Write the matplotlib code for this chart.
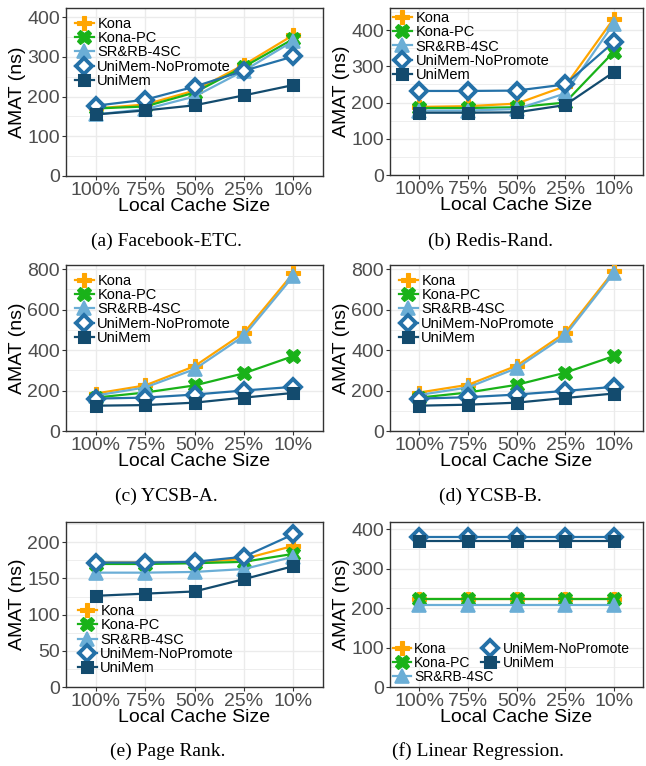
import matplotlib
matplotlib.use('Agg')
import matplotlib.pyplot as plt
from matplotlib.ticker import MultipleLocator

# x categories and series names
cache_sizes = ['100%', '75%', '50%', '25%', '10%']
series = ['Kona', 'Kona-PC', 'SR&RB-4SC', 'UniMem-NoPromote', 'UniMem']

# AMAT (ns) per workload, one list per series
fb_kona = [170, 180, 215, 280, 355]
fb_konapc = [170, 175, 210, 275, 345]
fb_srrb = [155, 168, 200, 265, 340]
fb_nopromote = [177, 192, 225, 265, 301]
fb_unimem = [155, 165, 178, 203, 229]

redis_kona = [188, 190, 197, 245, 432]
redis_konapc = [185, 185, 187, 200, 340]
redis_srrb = [178, 178, 182, 225, 418]
redis_nopromote = [232, 232, 233, 250, 367]
redis_unimem = [172, 172, 173, 193, 284]

ycsba_kona = [185, 225, 320, 485, 780]
ycsba_konapc = [165, 190, 225, 285, 370]
ycsba_srrb = [175, 215, 305, 470, 765]
ycsba_nopromote = [160, 165, 180, 200, 218]
ycsba_unimem = [125, 128, 140, 165, 188]

ycsbb_kona = [190, 228, 322, 485, 790]
ycsbb_konapc = [165, 190, 228, 288, 370]
ycsbb_srrb = [178, 215, 310, 472, 780]
ycsbb_nopromote = [160, 167, 180, 198, 218]
ycsbb_unimem = [125, 130, 140, 163, 185]

pr_kona = [172, 172, 172, 177, 195]
pr_konapc = [170, 170, 171, 173, 184]
pr_srrb = [158, 158, 159, 163, 180]
pr_nopromote = [172, 172, 173, 180, 211]
pr_unimem = [126, 129, 132, 149, 167]

lr_kona = [223, 223, 223, 223, 223]
lr_konapc = [223, 223, 223, 223, 223]
lr_srrb = [209, 209, 209, 209, 209]
lr_nopromote = [379, 379, 379, 379, 379]
lr_unimem = [371, 371, 371, 371, 371]

# styles
colors = ['#FFA500', '#19B219', '#6BAED6', '#2471A8', '#134B6E']
markers = ['P', 'X', '^', 'D', 's']

W, H = 646, 766
fig = plt.figure(figsize=(W / 100, H / 100), dpi=100)


def add_panel(px_left, px_top, px_right, px_bottom):
    return fig.add_axes([px_left / W, 1 - px_bottom / H,
                         (px_right - px_left) / W, (px_bottom - px_top) / H])


def draw(ax, data, ymax, ystep, caption, cap_x, cap_y, legend_loc,
         ncol=1, colspace=0.6, legpad=0.5, legsize=10.5):
    xs = range(len(cache_sizes))
    for i, (name, vals) in enumerate(zip(series, data)):
        kw = dict(color=colors[i], lw=1.6, marker=markers[i], label=name,
                  markeredgecolor=colors[i], zorder=3 + i)
        if markers[i] == 'D':
            kw.update(markerfacecolor='white', markersize=8, markeredgewidth=2.8)
        elif markers[i] == 's':
            kw.update(markersize=7.5, markeredgewidth=2.2)
        elif markers[i] == '^':
            kw.update(markersize=10, markeredgewidth=1.2)
        else:
            kw.update(markersize=10.5, markeredgewidth=0.8)
        ax.plot(xs, vals, **kw)

    ax.set_xlim(-0.6, 4.6)
    ax.set_ylim(0, ymax)
    ax.set_xticks(list(xs))
    ax.set_xticklabels(cache_sizes)
    ax.yaxis.set_major_locator(MultipleLocator(ystep))
    ax.yaxis.set_minor_locator(MultipleLocator(ystep / 2))
    ax.grid(True, which='major', color='#EBEBEB', lw=1.0, zorder=0)
    ax.grid(True, which='minor', axis='y', color='#EBEBEB', lw=0.6, zorder=0)
    ax.set_axisbelow(True)
    ax.tick_params(axis='both', which='major', labelsize=14, labelcolor='#4D4D4D',
                   color='#333333', length=3, width=0.8, pad=1.5)
    ax.tick_params(axis='y', which='minor', length=0)
    for lab in ax.get_xticklabels() + ax.get_yticklabels():
        lab.set_fontfamily('Liberation Sans')
    for sp in ax.spines.values():
        sp.set_color('#333333')
        sp.set_linewidth(1.0)
    ax.set_xlabel('Local Cache Size', fontsize=14, family='Liberation Sans', labelpad=-1)
    ax.set_ylabel('AMAT (ns)', fontsize=14, family='Liberation Sans', labelpad=1)

    leg = ax.legend(loc=legend_loc, ncol=ncol, frameon=False,
                    prop={'family': 'Liberation Sans', 'size': legsize},
                    handlelength=1.3, handletextpad=0.25, labelspacing=0.02,
                    borderaxespad=legpad, borderpad=0.1, columnspacing=colspace)
    leg.set_zorder(10)

    fig.text(cap_x / W, 1 - cap_y / H, caption, ha='center', va='center',
             fontsize=14, family='Liberation Serif')


ax_a = add_panel(66, 8, 323, 176)
draw(ax_a, [fb_kona, fb_konapc, fb_srrb, fb_nopromote, fb_unimem],
     423, 100, '(a) Facebook-ETC.', 166, 241, 'upper left')

ax_b = add_panel(390, 8, 643, 175)
draw(ax_b, [redis_kona, redis_konapc, redis_srrb, redis_nopromote, redis_unimem],
     461, 100, '(b) Redis-Rand.', 490, 241, 'upper left', legpad=0.1)

ax_c = add_panel(66, 265, 323, 431)
draw(ax_c, [ycsba_kona, ycsba_konapc, ycsba_srrb, ycsba_nopromote, ycsba_unimem],
     820, 200, '(c) YCSB-A.', 166, 496, 'upper left')

ax_d = add_panel(390, 265, 643, 431)
draw(ax_d, [ycsbb_kona, ycsbb_konapc, ycsbb_srrb, ycsbb_nopromote, ycsbb_unimem],
     820, 200, '(d) YCSB-B.', 490, 496, 'upper left')

ax_e = add_panel(66, 522, 323, 687)
draw(ax_e, [pr_kona, pr_konapc, pr_srrb, pr_nopromote, pr_unimem],
     228, 50, '(e) Page Rank.', 168, 751, 'lower left', legpad=0.7)

ax_f = add_panel(390, 522, 643, 687)
draw(ax_f, [lr_kona, lr_konapc, lr_srrb, lr_nopromote, lr_unimem],
     418, 100, '(f) Linear Regression.', 478, 751, 'lower left',
     ncol=2, colspace=-0.9, legpad=0.1, legsize=10)

fig.savefig('out.png', dpi=100)
